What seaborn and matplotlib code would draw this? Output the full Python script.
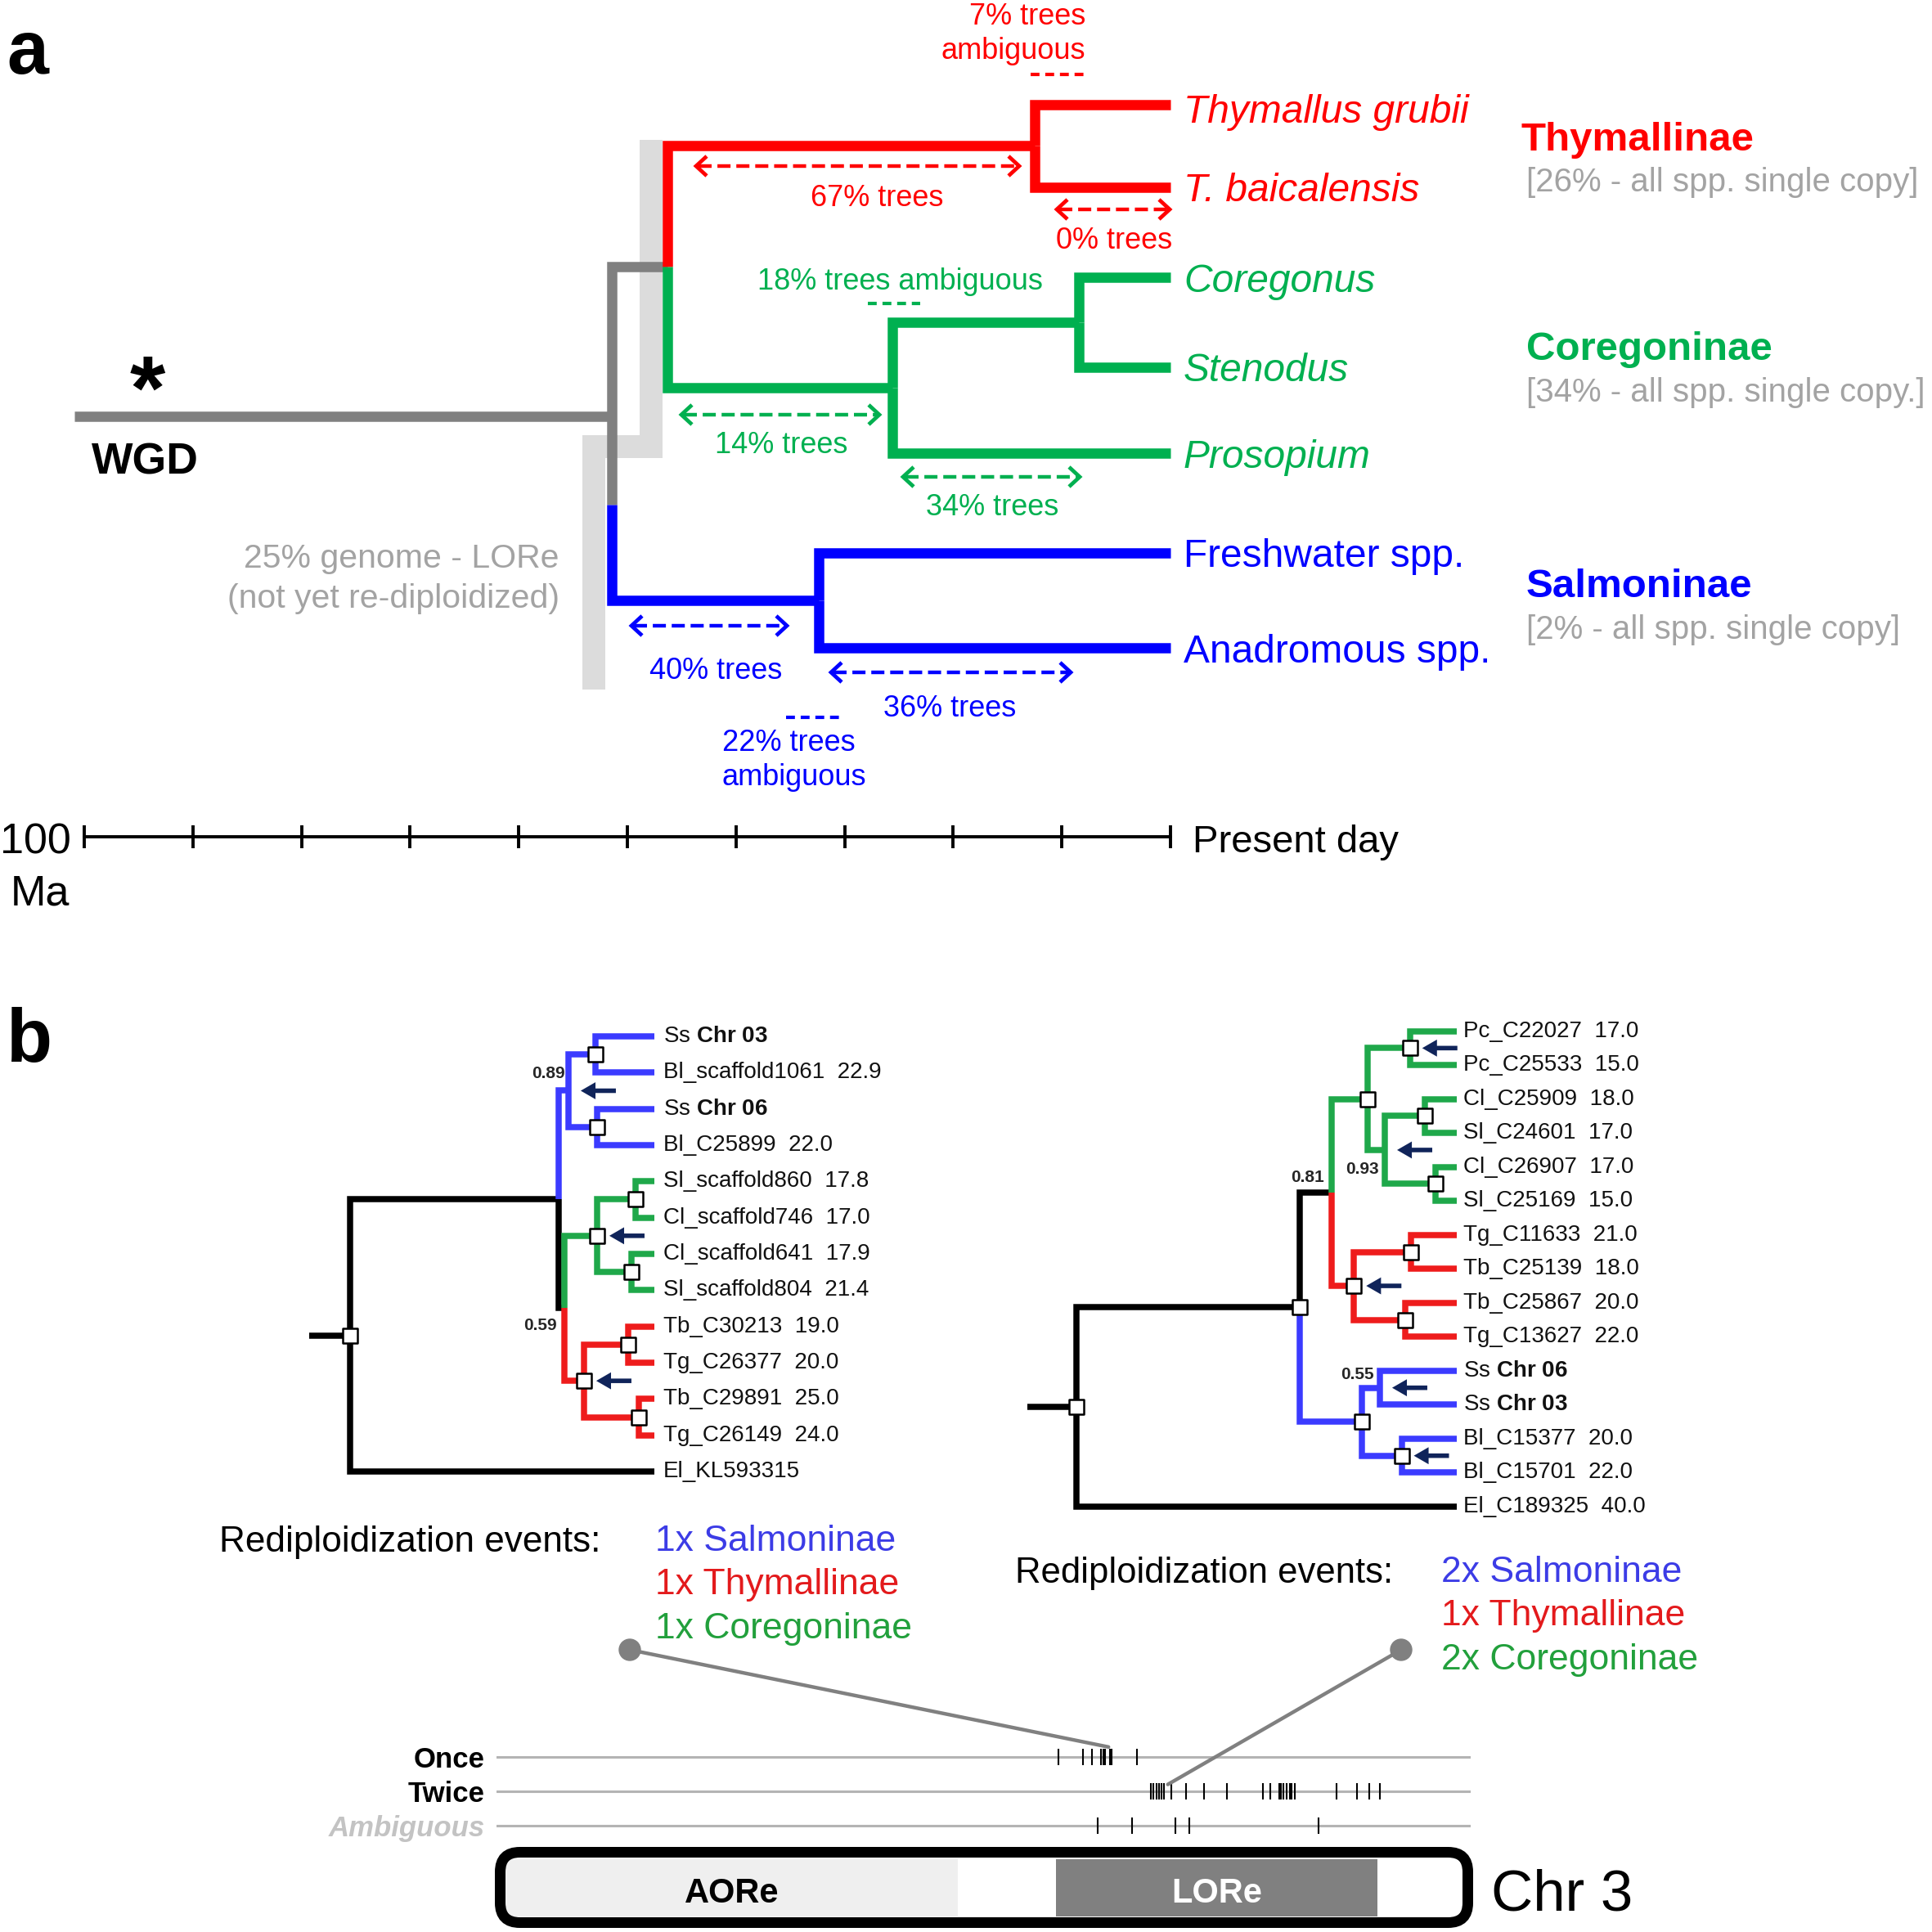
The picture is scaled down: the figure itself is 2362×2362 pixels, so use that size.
"""
two panel figure: timing of salmonid rediploidization (a) and gene trees for one chr 3 region (b)
"""

import numpy as np
import pandas as pd
import matplotlib
matplotlib.use("Agg")
import matplotlib.pyplot as plt
import seaborn as sns
from matplotlib.patches import FancyBboxPatch, Circle, ConnectionPatch

W = 2362      # figure size in pixels (saved at dpi 100)
PT = 0.72     # pixels -> points

# ---------------- panel a data ----------------
species_a = ["Thymallus grubii", "T. baicalensis", "Coregonus", "Stenodus",
             "Prosopium", "Freshwater spp.", "Anadromous spp."]
species_rows_a = [0, 0.91, 1.91, 2.9, 3.85, 4.95, 6.0]
wgd_age = 100.9
root_age = 51.4
thym_coreg_age = 46.3
thym_age = 12.5
coreg_age = 25.6
cor_sten_age = 8.4
salm_age = 32.4
stem_row = 3.44
salm_split_row = 4.42
lore_band_ages = [47.8, 53.1]
lore_band_rows = [0.39, 3.78, 6.46]
time_ticks = [100, 90, 80, 70, 60, 50, 40, 30, 20, 10, 0]
time_axis_row = 8.09

families = ["Thymallinae", "Coregoninae", "Salmoninae"]
single_copy = ["[26% - all spp. single copy]", "[34% - all spp. single copy.]",
               "[2% - all spp. single copy]"]

# ---------------- panel b data ----------------
left_names = ["Ss $\\mathbf{Chr\\ 03}$", "Bl_scaffold1061", "Ss $\\mathbf{Chr\\ 06}$", "Bl_C25899",
              "Sl_scaffold860", "Cl_scaffold746", "Cl_scaffold641", "Sl_scaffold804",
              "Tb_C30213", "Tg_C26377", "Tb_C29891", "Tg_C26149", "El_KL593315"]
left_ages = [None, 22.9, None, 22.0, 17.8, 17.0, 17.9, 21.4, 19.0, 20.0, 25.0, 24.0, None]
left_depth = {"A": 0.685, "B": 0.705, "C": 0.718, "D": 0.808, "E": 0.812, "F": 0.812,
              "G": 0.937, "H": 0.926, "I": 0.769, "J": 0.913, "K": 0.950}

right_names = ["Pc_C22027", "Pc_C25533", "Cl_C25909", "Sl_C24601", "Cl_C26907", "Sl_C25169",
               "Tg_C11633", "Tb_C25139", "Tb_C25867", "Tg_C13627",
               "Ss $\\mathbf{Chr\\ 06}$", "Ss $\\mathbf{Chr\\ 03}$", "Bl_C15377", "Bl_C15701", "El_C189325"]
right_ages = [17.0, 15.0, 18.0, 17.0, 17.0, 15.0, 21.0, 18.0, 20.0, 22.0, None, None, 20.0, 22.0, 40.0]
right_depth = {"A": 0.588, "B": 0.671, "C": 0.765, "D": 0.877, "E": 0.811, "F": 0.917,
               "G": 0.945, "H": 0.730, "I": 0.880, "J": 0.864, "K": 0.750, "L": 0.798, "M": 0.855}

# positions (Mb) of rediploidization calls along chr 3
once_pos = [53.1, 55.4, 56.2, 57.1, 57.3, 57.5, 57.9, 58.1, 60.5]
twice_pos = [61.8, 62.0, 62.3, 62.6, 62.8, 63.0, 63.7, 65.1, 66.8, 69.0, 72.4, 73.1, 73.9,
             74.1, 74.3, 74.6, 74.9, 75.1, 75.4, 79.3, 81.3, 82.4, 83.4]
ambig_pos = [56.8, 60.0, 64.1, 65.4, 77.6]
row_names = ["Once", "Twice", "Ambiguous"]
aore_span = (0.8, 43.6)
lore_span = (52.8, 83.2)

# colours
RED, GREEN, BLUE = "#ff0000", "#00b050", "#0000ff"
GREY, LIGHT, GREY_TXT = "#808080", "#dcdcdc", "#a3a3a3"
B_RED, B_GREEN, B_BLUE = "#ee1c1c", "#1fa84a", "#3b3bff"
NAVY = "#10245a"


def pixel_axes(fig, box, xmap, ymap):
    """axes placed on a pixel box, with data limits set from two reference points per axis"""
    left, top, right, bottom = box
    ax = fig.add_axes([left / W, 1 - bottom / W, (right - left) / W, (bottom - top) / W])
    (pa, va), (pb, vb) = xmap
    sx = (vb - va) / (pb - pa)
    ax.set_xlim(va + (left - pa) * sx, va + (right - pa) * sx)
    (qa, ua), (qb, ub) = ymap
    sy = (ub - ua) / (qb - qa)
    ax.set_ylim(ua + (bottom - qa) * sy, ua + (top - qa) * sy)
    ax.set_axis_off()
    return ax


def N(x, color, children, **kw):
    d = dict(x=x, color=color, children=children)
    d.update(kw)
    return d


def L(i, color):
    return dict(leaf=i, color=color)


def place(node, rows, tip):
    if "leaf" in node:
        node["x"], node["y"] = tip, rows[node["leaf"]]
    else:
        for c in node["children"]:
            place(c, rows, tip)
        node["y"] = np.mean([c["y"] for c in node["children"]])
    return node


def walk(node):
    yield node
    for c in node.get("children", []):
        yield from walk(c)


def draw_branches(ax, node, lw):
    for c in node.get("children", []):
        y0 = node.get("split", node["y"])
        ax.plot([node["x"], node["x"], c["x"]], [y0, c["y"], c["y"]], color=c["color"], lw=lw,
                solid_joinstyle="miter", solid_capstyle="butt", zorder=3)
        draw_branches(ax, c, lw)


def draw_gene_tree(ax, tree, names, ages, stub, pad):
    rows = list(range(len(names)))
    place(tree, rows, 1.0)
    lw = 7.5 * PT
    draw_branches(ax, tree, lw)
    ax.plot([stub, 0], [tree["y"]] * 2, color="black", lw=lw, solid_capstyle="butt", zorder=3)
    nodes = list(walk(tree))
    sq = pd.DataFrame([(n["x"], n["y"]) for n in nodes if n.get("sq")], columns=["x", "y"])
    sns.scatterplot(data=sq, x="x", y="y", marker="s", s=150, color="white", edgecolor="black",
                    linewidth=1.8, zorder=5, ax=ax, legend=False)
    for n in nodes:
        if n.get("arrow"):
            ax.annotate("", xy=(n["x"], n["y"]), xytext=(58 * PT, 0), textcoords="offset points",
                        arrowprops=dict(arrowstyle="simple,head_length=1.3,head_width=1.5,tail_width=0.4",
                                        mutation_scale=10, fc=NAVY, ec="none", shrinkA=0, shrinkB=15 * PT))
        if "support" in n:
            s, dx, dy, ha = n["support"]
            ax.annotate(s, xy=(n["x"], n["y"]), xytext=(dx * PT, -dy * PT), textcoords="offset points",
                        ha=ha, va="center", fontsize=15, fontweight="bold")
    for i, (name, age) in enumerate(zip(names, ages)):
        label = name if age is None else f"{name}  {age:.1f}"
        ax.annotate(label, xy=(1.0, i), xytext=(pad * PT, 0), textcoords="offset points",
                    va="center", fontsize=20, color="#111111")


def dashed_arrow(ax, x0, x1, y, color):
    ax.plot([x0 + 3, x1 - 3], [y, y], color=color, lw=3.2, ls=(0, (3.6, 1.6)), dash_capstyle="butt")
    for xe, d in ((x0, 1), (x1, -1)):
        ax.plot([xe + d * 13, xe, xe + d * 13], [y - 12, y, y + 12], color=color, lw=3.4,
                solid_joinstyle="miter", solid_capstyle="butt")


def ambiguous_dash(ax, x0, x1, y, color):
    ax.plot([x0, x1], [y, y], color=color, lw=3.0, ls=(0, (2.6, 1.7)), dash_capstyle="butt")


sns.set_theme(style="white")
plt.rcParams["font.family"] = ["Liberation Sans", "DejaVu Sans"]
plt.rcParams["mathtext.fontset"] = "custom"
plt.rcParams["mathtext.rm"] = "Liberation Sans"
plt.rcParams["mathtext.bf"] = "Liberation Sans:bold"
plt.rcParams["mathtext.it"] = "Liberation Sans:italic"

fig = plt.figure(figsize=(W / 100, W / 100), dpi=100)

# ---------------- panel a : dated species tree ----------------
ax_a = pixel_axes(fig, (0, 0, W, 1150), ((103, 100), (1431, 0)), ((128, 0), (792, 6)))

tree_a = N(root_age, GREY, [
    N(thym_coreg_age, GREY, [
        N(thym_age, RED, [L(0, RED), L(1, RED)]),
        N(coreg_age, GREEN, [N(cor_sten_age, GREEN, [L(2, GREEN), L(3, GREEN)]), L(4, GREEN)]),
    ]),
    N(salm_age, BLUE, [L(5, BLUE), L(6, BLUE)]),
], split=salm_split_row)
place(tree_a, species_rows_a, 0.0)

ax_a.plot([lore_band_ages[0], lore_band_ages[0], lore_band_ages[1], lore_band_ages[1]],
          [lore_band_rows[0], lore_band_rows[1], lore_band_rows[1], lore_band_rows[2]],
          color=LIGHT, lw=28 * PT, solid_joinstyle="miter", solid_capstyle="butt", zorder=1)
ax_a.plot([wgd_age, root_age], [stem_row] * 2, color=GREY, lw=12.5 * PT, solid_capstyle="butt", zorder=3)
draw_branches(ax_a, tree_a, 12.5 * PT)

leaf_colors = [RED, RED, GREEN, GREEN, GREEN, BLUE, BLUE]
for i, name in enumerate(species_a):
    dy = -10 if i == 0 else -5
    ax_a.annotate(name, xy=(0, species_rows_a[i]), xytext=(16 * PT, dy * PT), textcoords="offset points",
                  va="center", fontsize=34.5, color=leaf_colors[i], style="italic" if i < 5 else "normal")

ax_a.plot([time_ticks[0], time_ticks[-1]], [time_axis_row] * 2, color="black", lw=2.8, zorder=3)
ax_a.vlines(time_ticks, time_axis_row - 0.125, time_axis_row + 0.125, color="black", lw=2.8)

# ---------------- panel b : gene trees ----------------
ax_l = pixel_axes(fig, (300, 1240, 1150, 1830), ((427.5, 0), (800, 1)), ((1267, 0), (1799, 12)))
d = left_depth
tree_l = N(0, "black", [
    N(d["A"], "black", [
        N(d["C"], B_BLUE, [N(d["D"], B_BLUE, [L(0, B_BLUE), L(1, B_BLUE)], sq=True),
                           N(d["E"], B_BLUE, [L(2, B_BLUE), L(3, B_BLUE)], sq=True)],
          arrow=True, support=("0.89", -4, -21, "right")),
        N(d["B"], "black", [
            N(d["F"], B_GREEN, [N(d["G"], B_GREEN, [L(4, B_GREEN), L(5, B_GREEN)], sq=True),
                                N(d["H"], B_GREEN, [L(6, B_GREEN), L(7, B_GREEN)], sq=True)],
              sq=True, arrow=True),
            N(d["I"], B_RED, [N(d["J"], B_RED, [L(8, B_RED), L(9, B_RED)], sq=True),
                              N(d["K"], B_RED, [L(10, B_RED), L(11, B_RED)], sq=True)],
              sq=True, arrow=True),
        ], support=("0.59", -9, 21, "right")),
    ]),
    L(12, "black"),
], sq=True)
draw_gene_tree(ax_l, tree_l, left_names, left_ages, -0.134, 11)

ax_r = pixel_axes(fig, (1230, 1230, W, 1870), ((1315.5, 0), (1781, 1)), ((1260.6, 0), (1842, 14)))
d = right_depth
tree_r = N(0, "black", [
    N(d["A"], "black", [
        N(d["B"], "black", [
            N(d["C"], B_GREEN, [
                N(d["D"], B_GREEN, [L(0, B_GREEN), L(1, B_GREEN)], sq=True, arrow=True),
                N(d["E"], B_GREEN, [N(d["F"], B_GREEN, [L(2, B_GREEN), L(3, B_GREEN)], sq=True),
                                    N(d["G"], B_GREEN, [L(4, B_GREEN), L(5, B_GREEN)], sq=True)],
                  arrow=True, support=("0.93", -7, 24, "right")),
            ], sq=True),
            N(d["H"], B_RED, [N(d["I"], B_RED, [L(6, B_RED), L(7, B_RED)], sq=True),
                              N(d["J"], B_RED, [L(8, B_RED), L(9, B_RED)], sq=True)],
              sq=True, arrow=True),
        ], support=("0.81", -29, -18, "center")),
        N(d["K"], B_BLUE, [
            N(d["L"], B_BLUE, [L(10, B_BLUE), L(11, B_BLUE)], arrow=True, support=("0.55", -7, -16, "right")),
            N(d["M"], B_BLUE, [L(12, B_BLUE), L(13, B_BLUE)], sq=True, arrow=True),
        ], sq=True),
    ], sq=True),
    L(14, "black"),
], sq=True)
draw_gene_tree(ax_r, tree_r, right_names, right_ages, -0.127, 8)

# ---------------- chr 3 strip ----------------
ax_c = pixel_axes(fig, (607, 2120, 1798, W), ((607, 0), (1798, 92)), ((2148, 0), (2232, 2)))
ax_c.set_axis_on()
ax_c.patch.set_visible(False)
for sp in ax_c.spines.values():
    sp.set_visible(False)
for r in range(3):
    ax_c.axhline(r, color="#b4b4b4", lw=2.2, zorder=1)
strip = pd.DataFrame({
    "pos": once_pos + twice_pos + ambig_pos,
    "row": [0] * len(once_pos) + [1] * len(twice_pos) + [2] * len(ambig_pos),
})
sns.scatterplot(data=strip, x="pos", y="row", marker="|", s=190, linewidth=1.5, color="black",
                ax=ax_c, legend=False, zorder=3)
ax_c.set_xticks([])
ax_c.set_xlabel("")
ax_c.set_ylabel("")
ax_c.set_yticks([0, 1, 2], row_names)
ax_c.tick_params(axis="y", length=0, pad=14 * PT)
for lab, col, sty in zip(ax_c.get_yticklabels(), ["black", "black", "#c3c3c3"], ["normal", "normal", "italic"]):
    lab.set_fontsize(25)
    lab.set_fontweight("bold")
    lab.set_color(col)
    lab.set_fontstyle(sty)
fy0, fy1 = (W - 2343) / 242, (W - 2273) / 242
ax_c.axvspan(*aore_span, ymin=fy0, ymax=fy1, color="#efefef", lw=0)
ax_c.axvspan(*lore_span, ymin=fy0, ymax=fy1, color="#808080", lw=0)
xt = ax_c.get_xaxis_transform()
ty = (W - 2315) / 242
ax_c.text(np.mean(aore_span), ty, "AORe", transform=xt, ha="center", va="center",
          fontsize=30, fontweight="bold", color="black")
ax_c.text(np.mean(lore_span), ty, "LORe", transform=xt, ha="center", va="center",
          fontsize=30, fontweight="bold", color="white")

# ---------------- overlay for text and decorations (pixel coords) ----------------
ov = fig.add_axes([0, 0, 1, 1])
ov.set_xlim(0, W)
ov.set_ylim(W, 0)
ov.set_axis_off()


def txt(x, y, s, size, color="black", ha="left", va="center", **kw):
    ov.text(x, y, s, fontsize=size, color=color, ha=ha, va=va, **kw)


txt(8, 90, "a", 66, weight="bold", va="baseline")
txt(180, 513, "*", 80, weight="bold", ha="center", va="baseline")
txt(177, 565, "WGD", 38.5, weight="bold", ha="center")
txt(684, 683, "25% genome - LORe", 29.5, GREY_TXT, ha="right")
txt(684, 732, "(not yet re-diploidized)", 29.5, GREY_TXT, ha="right")

txt(1327, 21, "7% trees", 26, RED, ha="right")
txt(1327, 63, "ambiguous", 26, RED, ha="right")
txt(1072, 243, "67% trees", 26, RED, ha="center")
txt(1362, 294, "0% trees", 26, RED, ha="center")
txt(1100, 344, "18% trees ambiguous", 26, GREEN, ha="center")
txt(955, 545, "14% trees", 26, GREEN, ha="center")
txt(1213, 620, "34% trees", 26, GREEN, ha="center")
txt(875, 820, "40% trees", 26, BLUE, ha="center")
txt(1161, 866, "36% trees", 26, BLUE, ha="center")
txt(883, 909, "22% trees", 26, BLUE)
txt(883, 951, "ambiguous", 26, BLUE)

ambiguous_dash(ov, 1260, 1325, 91, RED)
ambiguous_dash(ov, 1061, 1125, 371, GREEN)
ambiguous_dash(ov, 961, 1026, 877, BLUE)
dashed_arrow(ov, 851, 1246, 203, RED)
dashed_arrow(ov, 1292, 1430, 256, RED)
dashed_arrow(ov, 833, 1075, 507, GREEN)
dashed_arrow(ov, 1104, 1320, 583, GREEN)
dashed_arrow(ov, 772, 962, 765, BLUE)
dashed_arrow(ov, 1016, 1309, 822, BLUE)

fam_y = [171, 428, 718]
fam_x = [1860, 1866, 1866]
for name, sc, col, x, y in zip(families, single_copy, [RED, GREEN, BLUE], fam_x, fam_y):
    txt(x, y, name, 35.5, col, weight="bold")
    txt(x + 6 if name == "Thymallinae" else x, y + 52, sc, 29, GREY_TXT)

txt(0, 1030, "100", 37.5)
txt(13, 1093, "Ma", 37.5)
txt(1458, 1030, "Present day", 34)

txt(8, 1298, "b", 66, weight="bold", va="baseline")
txt(268, 1885, "Rediploidization events:", 31.8)
txt(1241, 1923, "Rediploidization events:", 31.4)
leg_cols = ["#3c3ce6", "#e31a1c", "#22a03c"]
for lab, col, y in zip(["1x Salmoninae", "1x Thymallinae", "1x Coregoninae"], leg_cols, [1885, 1938, 1991]):
    txt(801, y, lab, 32, col)
for lab, col, y in zip(["2x Salmoninae", "1x Thymallinae", "2x Coregoninae"], leg_cols, [1923, 1976, 2029]):
    txt(1762, y, lab, 32, col)

# callouts from the two gene trees down to their chr 3 position
for (cx, cy), (pos, row) in [((770, 2017), (57.8, -0.29)), ((1713, 2017), (63.4, 0.8))]:
    ov.add_patch(Circle((cx, cy), 13, color=GREY, zorder=4))
    con = ConnectionPatch(xyA=(cx, cy), coordsA=ov.transData, xyB=(pos, row), coordsB=ax_c.transData,
                          color=GREY, lw=3.2, zorder=4)
    fig.add_artist(con)

ov.add_patch(FancyBboxPatch((611.5, 2264.5), 1183, 86, boxstyle="round,pad=0,rounding_size=24",
                            lw=13 * PT, ec="black", fc="none", zorder=5))
txt(1823, 2317, "Chr 3", 51)

fig.savefig("out.png", dpi=100, facecolor="white")
